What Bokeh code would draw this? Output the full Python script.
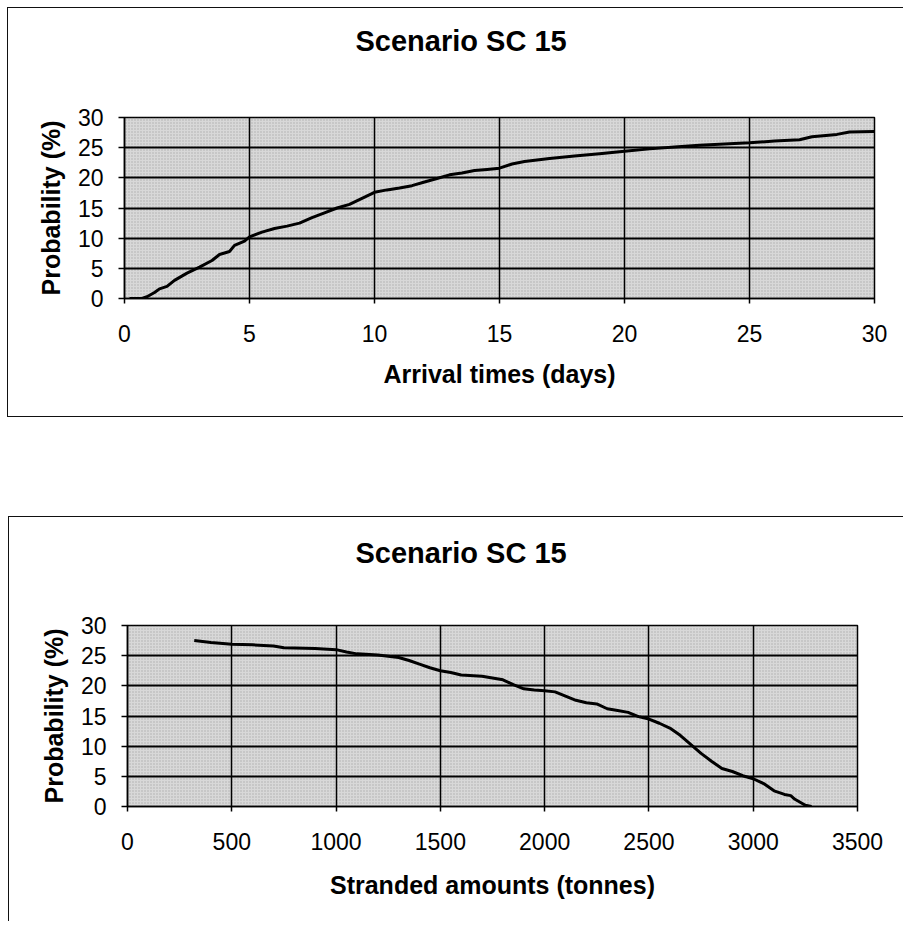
from bokeh.plotting import figure
from bokeh.models import Range1d, BoxAnnotation, Title
from bokeh.embed import file_html
from bokeh.resources import INLINE

# ---------------- data ----------------
chart_title = "Scenario SC 15"
y_label = "Probability (%)"
y_ticks = [0, 5, 10, 15, 20, 25, 30]

arrival_label = "Arrival times (days)"
arrival_ticks = [0, 5, 10, 15, 20, 25, 30]
arrival_days = [0.2, 0.7, 0.9, 1.2, 1.4, 1.7, 2.0, 2.5, 3.0, 3.5, 3.8, 4.2, 4.4,
                4.8, 5.0, 5.5, 6.0, 6.5, 7.0, 7.5, 8.0, 8.5, 9.0, 9.5, 10.0,
                10.5, 11.0, 11.5, 12.0, 12.5, 13.0, 13.5, 14.0, 14.5, 15.0,
                15.5, 16.0, 17.0, 18.0, 19.0, 20.0, 21.0, 22.0, 23.0, 24.0,
                25.0, 26.0, 27.0, 27.5, 28.5, 29.0, 30.0]
arrival_prob = [0.0, 0.0, 0.3, 1.0, 1.6, 2.0, 3.0, 4.2, 5.2, 6.3, 7.3, 7.8, 8.8,
                9.5, 10.2, 11.0, 11.6, 12.0, 12.5, 13.4, 14.2, 15.0, 15.6, 16.6, 17.6,
                18.0, 18.3, 18.7, 19.3, 19.9, 20.5, 20.8, 21.2, 21.4, 21.6,
                22.3, 22.7, 23.2, 23.6, 24.0, 24.4, 24.8, 25.1, 25.4, 25.6,
                25.8, 26.1, 26.3, 26.8, 27.2, 27.6, 27.7]

stranded_label = "Stranded amounts (tonnes)"
stranded_ticks = [0, 500, 1000, 1500, 2000, 2500, 3000, 3500]
stranded_tonnes = [320, 400, 500, 600, 700, 750, 900, 1000, 1050, 1100, 1200,
                   1300, 1350, 1400, 1450, 1500, 1550, 1600, 1700, 1750, 1800,
                   1850, 1900, 1950, 2000, 2050, 2100, 2150, 2200, 2250, 2300,
                   2350, 2400, 2450, 2500, 2550, 2600, 2650, 2700, 2750, 2800,
                   2850, 2900, 2950, 3000, 3050, 3100, 3150, 3180, 3200, 3250, 3280]
stranded_prob = [27.5, 27.2, 26.9, 26.8, 26.6, 26.3, 26.2, 26.0, 25.6, 25.3, 25.1,
                 24.7, 24.2, 23.6, 23.0, 22.5, 22.2, 21.8, 21.6, 21.3, 21.0,
                 20.2, 19.5, 19.3, 19.2, 19.0, 18.3, 17.6, 17.2, 17.0, 16.2,
                 15.9, 15.6, 14.9, 14.5, 13.8, 13.0, 11.8, 10.3, 8.8, 7.5,
                 6.3, 5.8, 5.1, 4.6, 3.8, 2.6, 2.0, 1.8, 1.2, 0.2, 0.0]

FONT = "Liberation Sans"


def make_chart(xs, ys, xticks, xlabel, width, height, margin,
               left, right, top, bottom, title_offset, title_gap,
               xlabel_standoff, box_css):
    p = figure(width=width, height=height, title=None,
               x_range=Range1d(xticks[0], xticks[-1]), y_range=Range1d(y_ticks[0], y_ticks[-1]),
               output_backend="svg", toolbar_location=None,
               min_border_left=left, min_border_right=right,
               min_border_top=top, min_border_bottom=bottom)
    p.margin = margin
    p.border_fill_color = None
    p.background_fill_color = "#d8d8d8"
    p.outline_line_color = "black"
    p.outline_line_width = 1.5
    p.styles = {"box-shadow": box_css}

    # stipple texture
    p.add_layout(BoxAnnotation(fill_color=None, line_color=None, hatch_pattern="dot",
                               hatch_color="#777777", hatch_scale=3, hatch_alpha=0.45,
                               level="image"))

    # blank spacer between the frame and the chart title
    p.add_layout(Title(text=" ", text_font_size="10px", standoff=title_gap), "above")
    p.add_layout(Title(text=chart_title, align="left", offset=title_offset, standoff=0,
                       text_font=FONT, text_font_size="29px", text_font_style="bold",
                       text_color="black"), "above")

    p.xaxis.ticker = xticks
    p.yaxis.ticker = y_ticks
    for ax in (p.xaxis, p.yaxis):
        ax.axis_line_color = "black"
        ax.axis_line_width = 1.5
        ax.major_tick_line_color = "black"
        ax.major_tick_line_width = 1.5
        ax.major_tick_in = 0
        ax.minor_tick_line_color = None
        ax.major_label_text_font = FONT
        ax.major_label_text_font_size = "23px"
        ax.major_label_text_color = "black"
        ax.axis_label_text_font = FONT
        ax.axis_label_text_font_size = "25px"
        ax.axis_label_text_font_style = "bold"
        ax.axis_label_text_color = "black"
    p.xaxis.major_tick_out = 5
    p.yaxis.major_tick_out = 6
    p.xaxis.major_label_standoff = 21
    p.yaxis.major_label_standoff = 15
    p.xaxis.axis_label = xlabel
    p.yaxis.axis_label = y_label
    p.xaxis.axis_label_standoff = xlabel_standoff
    p.yaxis.axis_label_standoff = 10

    p.xgrid.grid_line_color = "black"
    p.xgrid.grid_line_width = 1.5
    p.ygrid.grid_line_color = "black"
    p.ygrid.grid_line_width = 2

    p.line(xs, ys, line_color="black", line_width=3)
    return p


p1 = make_chart(arrival_days, arrival_prob, arrival_ticks, arrival_label,
                896, 410, (7, 0, 0, 7),
                117, 29, 110, 119, 231, 48, 15,
                "inset 1px 1px 0 0 #111, inset 0 -1px 0 0 #111")
p2 = make_chart(stranded_tonnes, stranded_prob, stranded_ticks, stranded_label,
                895, 405, (99, 0, 0, 8),
                119, 46, 109, 115, 228, 44, 18,
                "inset 1px 1px 0 0 #111")

open("out.html", "w").write(file_html([p1, p2], INLINE))
